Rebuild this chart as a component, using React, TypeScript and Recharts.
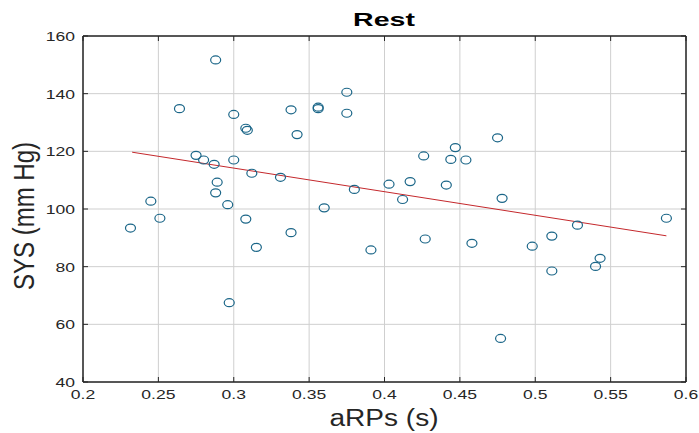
import React from 'react';
import { ScatterChart, Scatter, XAxis, YAxis, CartesianGrid, ReferenceArea } from 'recharts';

const aRPs = [
  0.288, 0.264, 0.300, 0.308, 0.309, 0.338, 0.342, 0.356, 0.356, 0.375,
  0.375, 0.275, 0.280, 0.287, 0.300, 0.312, 0.331, 0.289, 0.288, 0.245,
  0.296, 0.360, 0.251, 0.308, 0.2315, 0.315, 0.338, 0.297,
  0.475, 0.447, 0.426, 0.444, 0.454, 0.403, 0.417, 0.441, 0.412, 0.478,
  0.380, 0.587,
  0.391, 0.427, 0.458, 0.498, 0.511, 0.528, 0.511, 0.540, 0.543, 0.477,
];
const sys = [
  151.7, 134.8, 132.8, 128.0, 127.3, 134.4, 125.8, 134.8, 135.3, 140.5,
  133.2, 118.6, 117.0, 115.5, 117.0, 112.4, 111.0, 109.3, 105.6, 102.7,
  101.5, 100.4, 96.8, 96.5, 93.4, 86.7, 91.8, 67.5,
  124.7, 121.3, 118.4, 117.2, 117.0, 108.6, 109.5, 108.3, 103.3, 103.7,
  106.8, 96.8,
  85.8, 89.6, 88.1, 87.1, 90.6, 94.4, 78.5, 80.1, 82.9, 55.1,
];
const fitX = [0.2326, 0.587];
const fitY = [119.7, 90.7];

const xTicks = [0.2, 0.25, 0.3, 0.35, 0.4, 0.45, 0.5, 0.55, 0.6];
const yTicks = [40, 60, 80, 100, 120, 140, 160];

const points = aRPs.map((x, i) => ({ x, y: sys[i] }));
const fit = fitX.map((x, i) => ({ x, y: fitY[i] }));

const font = '"Liberation Sans", Arial, sans-serif';
const ink = '#262626';
const gridColor = '#cfcfcf';
const TL = 5;
const SX = 1.3; // the picture is stretched sideways

const fmtX = (v: number) => String(+v.toFixed(2));

const BottomTick = (p: any) => (
  <g>
    <line x1={p.x} y1={p.y} x2={p.x} y2={p.y - TL} stroke={ink} />
    <text transform={`translate(${p.x},${p.y + 17}) scale(${SX},1)`} textAnchor="middle" fontSize={13.5} fill={ink} fontFamily={font}>
      {fmtX(p.payload.value)}
    </text>
  </g>
);
const TopTick = (p: any) => <line x1={p.x} y1={p.y} x2={p.x} y2={p.y + TL} stroke={ink} />;
const LeftTick = (p: any) => (
  <g>
    <line x1={p.x} y1={p.y} x2={p.x + TL} y2={p.y} stroke={ink} />
    <text transform={`translate(${p.x - 8},${p.y + 5}) scale(${SX},1)`} textAnchor="end" fontSize={13.5} fill={ink} fontFamily={font}>
      {p.payload.value}
    </text>
  </g>
);
const RightTick = (p: any) => <line x1={p.x} y1={p.y} x2={p.x - TL} y2={p.y} stroke={ink} />;

const Ring = (p: any) => (
  <ellipse cx={p.cx} cy={p.cy} rx={5} ry={4} fill="none" stroke="#1b6688" strokeWidth={1.2} />
);
const Nothing = () => <g />;

const App: React.FC = () => (
  <div style={{ position: 'absolute', left: 0, top: 0, width: 699, height: 433, background: '#fff' }}>
    <ScatterChart width={699} height={433} margin={{ top: 35, right: 12, bottom: 0, left: 0 }}>
      <CartesianGrid xAxisId={0} yAxisId={0} stroke={gridColor} strokeWidth={1} />
      <XAxis dataKey="x" type="number" domain={[0.2, 0.6]} ticks={xTicks} height={51}
        axisLine={{ stroke: ink }} tickLine={false} tickSize={0} tickMargin={0} tick={<BottomTick />} interval={0} />
      <XAxis xAxisId="t" orientation="top" dataKey="x" type="number" domain={[0.2, 0.6]} ticks={xTicks} height={1}
        axisLine={{ stroke: ink }} tickLine={false} tickSize={0} tickMargin={0} tick={<TopTick />} interval={0} />
      <YAxis dataKey="y" type="number" domain={[40, 160]} ticks={yTicks} width={83}
        axisLine={{ stroke: ink }} tickLine={false} tickSize={0} tickMargin={0} tick={<LeftTick />} interval={0} />
      <YAxis yAxisId="r" orientation="right" dataKey="y" type="number" domain={[40, 160]} ticks={yTicks} width={1}
        axisLine={{ stroke: ink }} tickLine={false} tickSize={0} tickMargin={0} tick={<RightTick />} interval={0} />
      <ReferenceArea x1={0.2} x2={0.6} y1={40} y2={160} fill="none" stroke={ink} strokeOpacity={1} />
      <Scatter xAxisId="t" yAxisId="r" data={points} shape={<Nothing />} isAnimationActive={false} />
      <Scatter data={fit} line={{ stroke: '#c4282c', strokeWidth: 1 }} shape={<Nothing />} isAnimationActive={false} />
      <Scatter data={points} shape={<Ring />} isAnimationActive={false} />
    </ScatterChart>
    <div style={{ position: 'absolute', left: 384, top: 19, transform: `translate(-50%, -50%) scaleX(1.5)`, lineHeight: 1, whiteSpace: 'nowrap', fontFamily: font, fontWeight: 'bold', fontSize: 19, color: '#000' }}>
      Rest
    </div>
    <div style={{ position: 'absolute', left: 384, top: 418, transform: `translate(-50%, -50%) scaleX(1.22)`, lineHeight: 1, whiteSpace: 'nowrap', fontFamily: font, fontSize: 23, color: ink }}>
      aRPs (s)
    </div>
    <div style={{ position: 'absolute', left: 24, top: 216, transform: 'translate(-50%, -50%) rotate(-90deg) scaleY(1.25)', lineHeight: 1, whiteSpace: 'nowrap', fontFamily: font, fontSize: 24, color: ink }}>
      SYS (mm Hg)
    </div>
  </div>
);

export default App;
